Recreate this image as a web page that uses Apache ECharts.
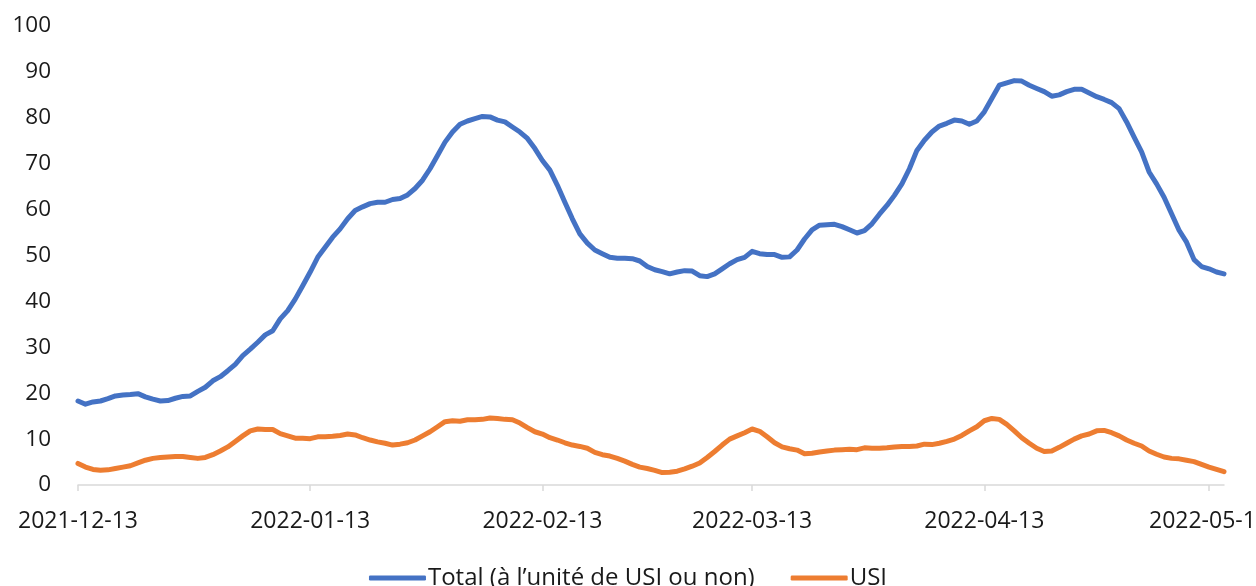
<!DOCTYPE html>
<html>
<head>
<meta charset="utf-8">
<script src="https://cdn.jsdelivr.net/npm/echarts@6/dist/echarts.min.js"></script>
<style>
  html, body { margin: 0; padding: 0; background: #fff; }
  #chart { width: 1256px; height: 586px; }
</style>
</head>
<body>
<div id="chart"></div>
<script>
// daily dates from 2021-12-13 to 2022-05-15
const startDate = Date.UTC(2021, 11, 13);
const dayCount = 154;
const dates = [];
for (let i = 0; i < dayCount; i++) {
  dates.push(new Date(startDate + i * 86400000).toISOString().slice(0, 10));
}

const seriesNames = ['Total (à l’unité de USI ou non)', 'USI'];

const totalValues = [
  18.3, 17.6, 18.1, 18.3, 18.8, 19.4, 19.6, 19.7, 19.9, 19.2,
  18.7, 18.3, 18.4, 18.9, 19.3, 19.4, 20.4, 21.3, 22.7, 23.6,
  24.9, 26.3, 28.2, 29.6, 31.1, 32.7, 33.6, 36.2, 38.0, 40.5,
  43.4, 46.4, 49.6, 51.8, 54.0, 55.8, 58.0, 59.8, 60.6, 61.3,
  61.6, 61.6, 62.2, 62.4, 63.2, 64.6, 66.4, 68.9, 71.8, 74.7,
  76.9, 78.6, 79.3, 79.8, 80.3, 80.2, 79.5, 79.1, 78.0, 76.9,
  75.5, 73.3, 70.7, 68.6, 65.3, 61.6, 58.0, 54.7, 52.7, 51.2,
  50.4, 49.6, 49.4, 49.4, 49.3, 48.8, 47.6, 46.9, 46.5, 46.0,
  46.4, 46.7, 46.6, 45.6, 45.4, 46.0, 47.1, 48.2, 49.1, 49.6,
  50.9, 50.4, 50.2, 50.2, 49.6, 49.7, 51.2, 53.6, 55.6, 56.6,
  56.7, 56.8, 56.3, 55.6, 54.9, 55.4, 56.9, 59.0, 60.9, 63.1,
  65.6, 68.9, 72.9, 75.1, 76.9, 78.2, 78.8, 79.5, 79.3, 78.6,
  79.3, 81.3, 84.2, 87.1, 87.6, 88.1, 88.0, 87.1, 86.4, 85.7,
  84.7, 85.0, 85.7, 86.2, 86.2, 85.4, 84.6, 84.0, 83.3, 82.0,
  79.1, 75.8, 72.6, 68.2, 65.6, 62.7, 59.1, 55.5, 52.9, 49.1,
  47.6, 47.1, 46.4, 46.0
];

const usiValues = [
  4.7, 3.9, 3.4, 3.2, 3.3, 3.6, 3.9, 4.2, 4.8, 5.4,
  5.8, 6.0, 6.1, 6.2, 6.2, 6.0, 5.8, 6.0, 6.6, 7.4,
  8.3, 9.5, 10.7, 11.8, 12.2, 12.1, 12.1, 11.2, 10.7, 10.2,
  10.2, 10.1, 10.5, 10.5, 10.6, 10.8, 11.1, 10.9, 10.3, 9.8,
  9.4, 9.1, 8.7, 8.9, 9.2, 9.8, 10.7, 11.6, 12.7, 13.8,
  14.0, 13.9, 14.2, 14.2, 14.3, 14.6, 14.5, 14.3, 14.2, 13.5,
  12.5, 11.6, 11.1, 10.3, 9.8, 9.2, 8.7, 8.4, 8.0, 7.1,
  6.6, 6.3, 5.8, 5.2, 4.5, 3.9, 3.6, 3.2, 2.7, 2.8,
  3.0, 3.5, 4.1, 4.8, 6.0, 7.3, 8.7, 10.0, 10.7, 11.4,
  12.2, 11.7, 10.5, 9.2, 8.3, 7.9, 7.6, 6.8, 6.9, 7.2,
  7.4, 7.6, 7.7, 7.8, 7.7, 8.1, 8.0, 8.0, 8.1, 8.3,
  8.4, 8.4, 8.5, 8.9, 8.8, 9.1, 9.5, 10.0, 10.8, 11.8,
  12.7, 14.0, 14.5, 14.3, 13.2, 11.8, 10.3, 9.1, 8.0, 7.3,
  7.4, 8.2, 9.1, 10.0, 10.7, 11.1, 11.8, 11.9, 11.4, 10.7,
  9.8, 9.1, 8.5, 7.4, 6.7, 6.1, 5.8, 5.7, 5.4, 5.1,
  4.5, 3.9, 3.4, 2.9
];

const colors = ['#4472C4', '#ED7D31'];
const fontFamily = '"Open Sans", "Noto Sans", sans-serif';
const textColor = '#1a1a1a';

// label and tick on the 13th of each month
const onThe13th = (idx, value) => value.slice(8) === '13';

const chart = echarts.init(document.getElementById('chart'));

const option = {
  backgroundColor: '#fff',
  animation: false,
  color: colors,
  grid: {
    left: 78,
    right: 32,
    top: 26,
    bottom: 101,
    outerBoundsMode: 'none'
  },
  legend: {
    top: 561,
    left: 'center',
    icon: 'roundRect',
    itemWidth: 57,
    itemHeight: 5,
    itemGap: 36,
    textStyle: {
      fontFamily: fontFamily,
      fontSize: 24,
      color: textColor,
      padding: [0, 0, 0, -3]
    },
    data: seriesNames
  },
  xAxis: {
    type: 'category',
    data: dates,
    boundaryGap: false,
    axisLine: { lineStyle: { color: '#d9d9d9', width: 1.5 } },
    axisTick: {
      interval: onThe13th,
      length: 6,
      lineStyle: { color: '#d9d9d9', width: 1.5 }
    },
    axisLabel: {
      interval: onThe13th,
      margin: 25,
      fontFamily: fontFamily,
      fontSize: 23,
      color: textColor,
      hideOverlap: false
    },
    splitLine: { show: false }
  },
  yAxis: {
    type: 'value',
    min: 0,
    max: 100,
    interval: 10,
    axisLine: { show: false },
    axisTick: { show: false },
    splitLine: { show: false },
    axisLabel: {
      margin: 27,
      fontFamily: fontFamily,
      fontSize: 22.5,
      color: textColor
    }
  },
  series: [
    {
      name: seriesNames[0],
      type: 'line',
      data: totalValues,
      showSymbol: false,
      lineStyle: { width: 5, color: colors[0], cap: 'round', join: 'round' }
    },
    {
      name: seriesNames[1],
      type: 'line',
      data: usiValues,
      showSymbol: false,
      lineStyle: { width: 5, color: colors[1], cap: 'round', join: 'round' }
    }
  ]
};

chart.setOption(option);
</script>
</body>
</html>
